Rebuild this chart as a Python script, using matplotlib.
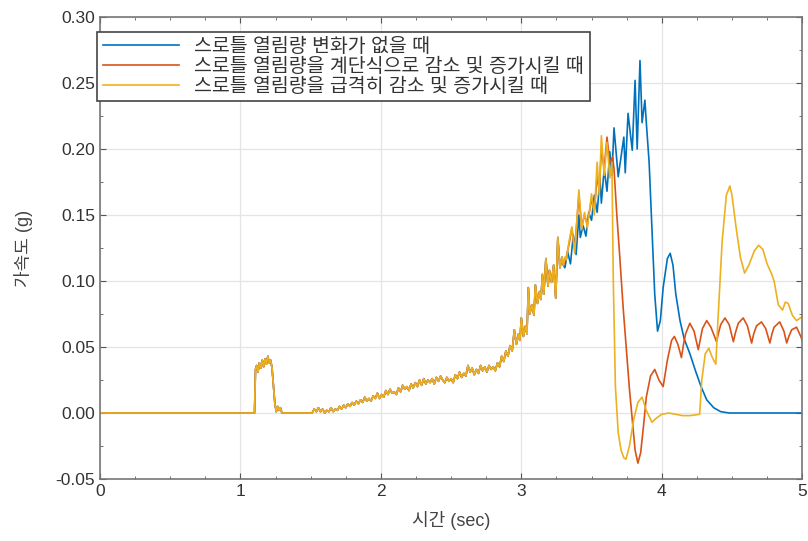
import numpy as np
import matplotlib
matplotlib.use("Agg")
import matplotlib.pyplot as plt
from matplotlib.ticker import MultipleLocator, FormatStrFormatter

plt.rcParams['font.family'] = ['Liberation Sans', 'Noto Sans CJK KR', 'DejaVu Sans']

# Shared part of the response (all three cases identical up to ~3.3 s)
t_common = [0.00, 1.10, 1.107, 1.115, 1.125, 1.135, 1.145, 1.155, 1.165, 1.175, 1.185, 1.195,
            1.205, 1.215, 1.225, 1.235, 1.245, 1.255, 1.265, 1.275, 1.285, 1.295, 1.31, 1.50,
            1.51, 1.525, 1.54, 1.555, 1.57, 1.585, 1.60, 1.615, 1.63, 1.645, 1.66, 1.675,
            1.69, 1.705, 1.72, 1.735, 1.75, 1.765, 1.78, 1.795, 1.81, 1.825, 1.84, 1.855,
            1.87, 1.885, 1.90, 1.915, 1.93, 1.945, 1.96, 1.975, 1.99, 2.005, 2.02, 2.035,
            2.05, 2.065, 2.08, 2.095, 2.11, 2.125, 2.14, 2.155, 2.17, 2.185, 2.20, 2.215,
            2.23, 2.245, 2.26, 2.275, 2.29, 2.305, 2.32, 2.335, 2.35, 2.365, 2.38, 2.395,
            2.41, 2.425, 2.44, 2.455, 2.47, 2.485, 2.50, 2.515, 2.53, 2.545, 2.56, 2.575,
            2.59, 2.605, 2.62, 2.635, 2.65, 2.665, 2.68, 2.695, 2.71, 2.725, 2.74, 2.755,
            2.77, 2.785, 2.80, 2.815, 2.83, 2.845, 2.86, 2.875, 2.89, 2.905, 2.92, 2.935,
            2.95, 2.965, 2.98, 2.99, 3.00, 3.015, 3.03, 3.04, 3.05, 3.06, 3.075, 3.09,
            3.10, 3.115, 3.13, 3.14, 3.15, 3.16, 3.175, 3.19, 3.20, 3.215, 3.23, 3.245,
            3.26, 3.275, 3.29, 3.30]
acc_common = [0.000, 0.000, 0.033, 0.036, 0.031, 0.038, 0.034, 0.040, 0.035, 0.041, 0.037, 0.043,
              0.038, 0.040, 0.034, 0.020, 0.007, 0.001, 0.005, 0.002, 0.004, 0.000, 0.000, 0.000,
              0.000, 0.003, 0.001, 0.004, 0.001, 0.003, 0.000, 0.002, 0.001, 0.004, 0.001, 0.003,
              0.002, 0.005, 0.003, 0.006, 0.004, 0.007, 0.005, 0.008, 0.006, 0.009, 0.007, 0.010,
              0.008, 0.012, 0.009, 0.011, 0.009, 0.013, 0.011, 0.015, 0.011, 0.014, 0.012, 0.017,
              0.014, 0.018, 0.015, 0.016, 0.014, 0.019, 0.016, 0.021, 0.018, 0.020, 0.017, 0.022,
              0.019, 0.023, 0.020, 0.025, 0.021, 0.026, 0.022, 0.025, 0.023, 0.026, 0.022, 0.027,
              0.024, 0.028, 0.025, 0.023, 0.027, 0.024, 0.026, 0.023, 0.029, 0.026, 0.031, 0.027,
              0.030, 0.028, 0.036, 0.031, 0.034, 0.029, 0.033, 0.030, 0.036, 0.032, 0.035, 0.031,
              0.036, 0.033, 0.035, 0.032, 0.038, 0.035, 0.043, 0.039, 0.047, 0.043, 0.051, 0.047,
              0.063, 0.052, 0.060, 0.055, 0.072, 0.058, 0.066, 0.060, 0.095, 0.075, 0.082, 0.074,
              0.097, 0.083, 0.092, 0.086, 0.105, 0.090, 0.117, 0.096, 0.108, 0.099, 0.112, 0.087,
              0.133, 0.110, 0.118, 0.112]

# Throttle opening unchanged
t_blue = [3.31, 3.33, 3.35, 3.37, 3.39, 3.41, 3.42, 3.44, 3.46, 3.48, 3.50, 3.52, 3.54, 3.56,
          3.57, 3.59, 3.61, 3.63, 3.645, 3.66, 3.69, 3.73, 3.74, 3.76, 3.79, 3.81, 3.825,
          3.845, 3.86, 3.88, 3.89, 3.91, 3.93, 3.95, 3.97, 3.99, 4.01, 4.04, 4.06, 4.08,
          4.10, 4.13, 4.16, 4.20, 4.24, 4.28, 4.32, 4.37, 4.42, 4.48, 5.00]
acc_blue = [0.110, 0.122, 0.113, 0.135, 0.120, 0.150, 0.133, 0.142, 0.134, 0.152, 0.146, 0.165,
            0.152, 0.178, 0.159, 0.185, 0.168, 0.198, 0.180, 0.216, 0.179, 0.209, 0.182, 0.227,
            0.199, 0.252, 0.200, 0.267, 0.220, 0.237, 0.220, 0.190, 0.140, 0.090, 0.062, 0.070,
            0.095, 0.117, 0.121, 0.112, 0.090, 0.070, 0.056, 0.045, 0.032, 0.020, 0.010, 0.004,
            0.001, 0.000, 0.000]

# Throttle opening decreased / increased in steps
t_orange = [3.31, 3.32, 3.34, 3.36, 3.38, 3.41, 3.43, 3.45, 3.47, 3.50, 3.52, 3.54, 3.555, 3.57,
            3.59, 3.61, 3.63, 3.65, 3.66, 3.68, 3.70, 3.725, 3.75, 3.77, 3.79, 3.81, 3.83,
            3.85, 3.87, 3.89, 3.92, 3.95, 3.98, 4.01, 4.04, 4.07, 4.09, 4.115, 4.14, 4.155,
            4.17, 4.20, 4.23, 4.26, 4.275, 4.29, 4.32, 4.35, 4.39, 4.405, 4.42, 4.45, 4.48,
            4.51, 4.525, 4.545, 4.58, 4.61, 4.64, 4.655, 4.675, 4.71, 4.74, 4.77, 4.785, 4.80,
            4.84, 4.87, 4.89, 4.905, 4.925, 4.96, 4.99, 5.00]
acc_orange = [0.115, 0.118, 0.128, 0.140, 0.124, 0.165, 0.141, 0.150, 0.143, 0.162, 0.153, 0.180,
              0.168, 0.200, 0.185, 0.209, 0.190, 0.194, 0.185, 0.150, 0.120, 0.080, 0.045, 0.018,
              -0.005, -0.028, -0.038, -0.030, -0.010, 0.012, 0.028, 0.033, 0.025, 0.020, 0.040,
              0.055, 0.058, 0.052, 0.042, 0.052, 0.060, 0.068, 0.062, 0.048, 0.056, 0.064, 0.070,
              0.065, 0.054, 0.061, 0.067, 0.072, 0.067, 0.054, 0.061, 0.068, 0.072, 0.066, 0.053,
              0.060, 0.066, 0.069, 0.064, 0.053, 0.060, 0.065, 0.069, 0.062, 0.053, 0.058, 0.063,
              0.065, 0.058, 0.055]

# Throttle opening decreased / increased abruptly
t_yellow = [3.31, 3.32, 3.34, 3.36, 3.38, 3.41, 3.43, 3.45, 3.47, 3.50, 3.52, 3.54, 3.555, 3.57,
            3.59, 3.61, 3.63, 3.645, 3.655, 3.67, 3.69, 3.71, 3.73, 3.745, 3.77, 3.80, 3.83,
            3.86, 3.89, 3.93, 3.96, 4.00, 4.05, 4.10, 4.15, 4.20, 4.27, 4.285, 4.31, 4.335,
            4.36, 4.385, 4.40, 4.43, 4.46, 4.485, 4.50, 4.53, 4.56, 4.59, 4.62, 4.66, 4.69,
            4.72, 4.75, 4.78, 4.80, 4.83, 4.86, 4.88, 4.90, 4.93, 4.96, 5.00]
acc_yellow = [0.118, 0.116, 0.130, 0.141, 0.121, 0.169, 0.139, 0.152, 0.140, 0.166, 0.150, 0.190,
              0.165, 0.210, 0.180, 0.205, 0.178, 0.190, 0.100, 0.020, -0.015, -0.028, -0.034,
              -0.035, -0.025, -0.005, 0.008, 0.012, 0.002, -0.007, -0.004, -0.001, 0.000,
              -0.001, -0.002, -0.002, -0.001, 0.025, 0.045, 0.049, 0.042, 0.037, 0.070, 0.130,
              0.165, 0.172, 0.165, 0.140, 0.118, 0.106, 0.112, 0.123, 0.127, 0.124, 0.113,
              0.106, 0.100, 0.082, 0.078, 0.084, 0.083, 0.074, 0.070, 0.073]

labels = ['스로틀 열림량 변화가 없을 때',
          '스로틀 열림량을 계단식으로 감소 및 증가시킬 때',
          '스로틀 열림량을 급격히 감소 및 증가시킬 때']
colors = ['#0072BD', '#D95319', '#EDB120']

fig = plt.figure(figsize=(8.08, 5.41), dpi=100)
ax = fig.add_axes([0.1238, 0.1146, 0.869, 0.854])

series = [(t_blue, acc_blue), (t_orange, acc_orange), (t_yellow, acc_yellow)]
for (t_tail, a_tail), lab, col in zip(series, labels, colors):
    t = np.concatenate([t_common, t_tail])
    a = np.concatenate([acc_common, a_tail])
    ax.plot(t, a, color=col, lw=1.2, label=lab)

ax.set_xlim(0, 5)
ax.set_ylim(-0.05, 0.30)
ax.xaxis.set_major_locator(MultipleLocator(1))
ax.xaxis.set_minor_locator(MultipleLocator(0.25))
ax.yaxis.set_major_locator(MultipleLocator(0.05))
ax.yaxis.set_minor_locator(MultipleLocator(0.025))
ax.yaxis.set_major_formatter(FormatStrFormatter('%.2f'))
ax.tick_params(which='both', direction='in', top=True, right=True, color='#555555',
               labelcolor='#333333', labelsize=12.5)
ax.tick_params(which='major', length=4)
ax.tick_params(which='minor', length=2)
ax.grid(True, which='major', color='#e4e4e4', lw=0.9)
ax.set_axisbelow(True)
for s in ax.spines.values():
    s.set_color('#777777')
    s.set_linewidth(1.2)

ax.set_xlabel('시간 (sec)', fontsize=13, color='#444444', labelpad=9)
ax.set_ylabel('가속도 (g)', fontsize=13, color='#444444', labelpad=16)

leg = ax.legend(loc='upper left', bbox_to_anchor=(-0.004, 0.967), borderaxespad=0,
                fontsize=14, handlelength=3.9, handletextpad=0.8, borderpad=0.3,
                labelspacing=0.08, fancybox=False, framealpha=1, edgecolor='#444444')
leg.get_frame().set_linewidth(1.2)
for txt in leg.get_texts():
    txt.set_color('#333333')

fig.savefig('out.png', dpi=100)
